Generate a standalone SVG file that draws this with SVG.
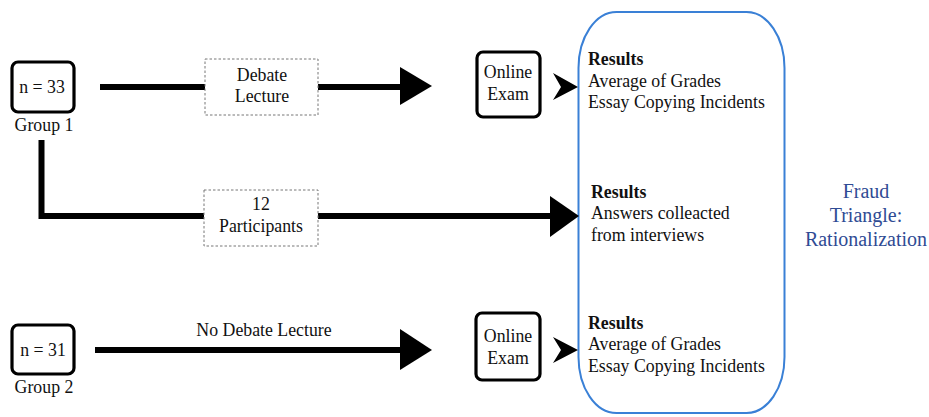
<svg xmlns="http://www.w3.org/2000/svg" width="929" height="417" viewBox="0 0 929 417" font-family="Liberation Serif, DejaVu Serif, serif">
<style>
text{font-size:17.8px;fill:#111}
.c{text-anchor:middle}
.b{font-weight:bold}
.node{fill:#fff;stroke:#000;stroke-width:3.2}
.dash{fill:#fff;stroke:#777;stroke-width:1;stroke-dasharray:2.5,2}
.line{stroke:#000;stroke-width:6;fill:none}
.head{fill:#000}
.ft{fill:#2f4b94;font-size:20px}
</style>
<g id="results-frame">
<rect x="578.5" y="12" width="206" height="401" rx="38" ry="56" fill="none" stroke="#3a80d6" stroke-width="2"/>
</g>
<g id="connectors">
<line class="line" x1="100" y1="87" x2="402" y2="87"/>
<polygon class="head" points="400,67 432,86 400,105"/>
<polyline class="line" points="41.5,140 41.5,216 552,216"/>
<polygon class="head" points="550,196 579,216 550,237"/>
<line class="line" x1="95" y1="350" x2="402" y2="350"/>
<polygon class="head" points="400,329 432,350 400,370"/>
<polygon class="head" points="553,73 578,87 553,100 561,87"/>
<polygon class="head" points="553,337 578,350 553,363 561,350"/>
</g>
<g id="group1">
<rect class="node" x="12" y="62" width="62" height="50" rx="6"/>
<text class="c" x="42" y="93">n = 33</text>
<text class="c" x="44" y="131">Group 1</text>
</g>
<g id="debate-lecture">
<rect class="dash" x="205" y="59" width="113" height="56"/>
<text class="c" x="262" y="81">Debate</text>
<text class="c" x="262" y="102">Lecture</text>
</g>
<g id="online-exam-1">
<rect class="node" x="477" y="52" width="63" height="65" rx="6"/>
<text class="c" x="508" y="78">Online</text>
<text class="c" x="508" y="100">Exam</text>
</g>
<g id="results-1">
<text class="b" x="588" y="65">Results</text>
<text x="588" y="87">Average of Grades</text>
<text x="588" y="108">Essay Copying Incidents</text>
</g>
<g id="participants">
<rect class="dash" x="204" y="190" width="114" height="56"/>
<text class="c" x="261" y="210">12</text>
<text class="c" x="261" y="232">Participants</text>
</g>
<g id="results-2">
<text class="b" x="591" y="198">Results</text>
<text x="591" y="219">Answers colleacted</text>
<text x="591" y="241">from interviews</text>
</g>
<g id="group2">
<rect class="node" x="12" y="325" width="62" height="49" rx="6"/>
<text class="c" x="43" y="356">n = 31</text>
<text class="c" x="44" y="393">Group 2</text>
</g>
<g id="no-debate-label">
<text class="c" x="264" y="336">No Debate Lecture</text>
</g>
<g id="online-exam-2">
<rect class="node" x="476" y="313" width="64" height="67" rx="6"/>
<text class="c" x="508" y="342">Online</text>
<text class="c" x="508" y="364">Exam</text>
</g>
<g id="results-3">
<text class="b" x="588" y="329">Results</text>
<text x="588" y="350">Average of Grades</text>
<text x="588" y="372">Essay Copying Incidents</text>
</g>
<g id="fraud-triangle">
<text class="c ft" x="866" y="198">Fraud</text>
<text class="c ft" x="866" y="222">Triangle:</text>
<text class="c ft" x="866" y="246">Rationalization</text>
</g>
</svg>
